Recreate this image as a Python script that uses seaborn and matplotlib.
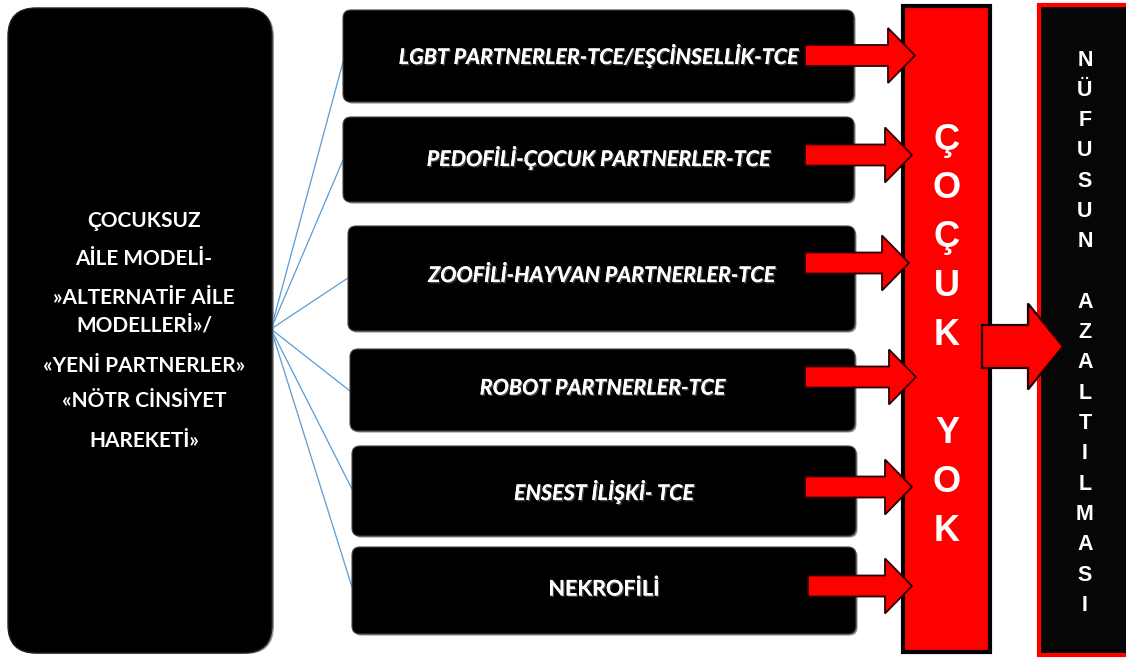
import matplotlib
matplotlib.use("Agg")
import matplotlib.pyplot as plt
from matplotlib.patches import FancyBboxPatch, Rectangle, FancyArrow
import matplotlib.patheffects as pe
import seaborn as sns

# ---- data (texts) ----
left_lines = ["ÇOCUKSUZ", "AİLE MODELİ-", "»ALTERNATİF AİLE", "MODELLERİ»/",
              "«YENİ PARTNERLER»", "«NÖTR CİNSİYET", "HAREKETİ»"]
partner_labels = ["LGBT PARTNERLER-TCE/EŞCİNSELLİK-TCE",
                  "PEDOFİLİ-ÇOCUK PARTNERLER-TCE",
                  "ZOOFİLİ-HAYVAN PARTNERLER-TCE",
                  "ROBOT PARTNERLER-TCE",
                  "ENSEST İLİŞKİ- TCE",
                  "NEKROFİLİ"]
partner_italic = [True, True, True, True, True, False]
middle_word = "ÇOÇUK YOK"
right_word = "NÜFUSUN AZALTILMASI"

# ---- layout (pixel coordinates) ----
W, H = 1126, 659
left_box = (8, 8, 264, 645)
left_text_y = [221, 259, 298, 326, 366, 401, 441]
boxes = [(343, 10, 511, 92), (343, 117, 511, 85), (348, 226, 507, 105),
         (350, 349, 505, 82), (352, 446, 504, 90), (352, 547, 504, 87)]
text_y = [55, 157, 275, 388, 491, 589]
line_origin = (271, 329)
line_ends = [(343, 62), (343, 160), (348, 278), (350, 391), (352, 489), (352, 587)]
arrow_y = [55.5, 155, 263, 377, 487, 586]
arrow_x0 = [805, 805, 805, 805, 805, 808]
arrow_x1 = [915, 912, 909, 916, 912, 912]

sns.set_theme(style="white")
plt.rcParams['font.family'] = ['Lato', 'DejaVu Sans']

fig = plt.figure(figsize=(W / 100, H / 100), dpi=100)
ax = fig.add_axes([0, 0, 1, 1])
ax.set_xlim(0, W)
ax.set_ylim(H, 0)
ax.axis("off")

shadow = [pe.withSimplePatchShadow(offset=(1, -1), shadow_rgbFace="#555555", alpha=0.8), pe.Normal()]

# left big rounded box (with slight grey rim)
x, y, w, h = left_box
ax.add_patch(FancyBboxPatch((x + 2, y + 1), w, h, boxstyle="round,pad=0,rounding_size=28",
                            fc="#9a9a9a", ec="none", zorder=1))
ax.add_patch(FancyBboxPatch((x, y), w, h, boxstyle="round,pad=0,rounding_size=28",
                            fc="black", ec="#222222", lw=1, zorder=2))
for t, ty in zip(left_lines, left_text_y):
    ax.text(x + w / 2 + 4, ty, t, color="white", fontsize=15, fontweight="bold",
            ha="center", va="center", zorder=5)

# connector lines
for ex, ey in line_ends:
    ax.plot([line_origin[0], ex], [line_origin[1], ey], color="#5b9bd5", lw=0.9, zorder=1.5)

# partner boxes
for (bx, by, bw, bh), lab, it, ty in zip(boxes, partner_labels, partner_italic, text_y):
    ax.add_patch(FancyBboxPatch((bx + 1.5, by + 1.5), bw, bh, boxstyle="round,pad=0,rounding_size=8",
                                fc="#8a8a8a", ec="none", zorder=2))
    ax.add_patch(FancyBboxPatch((bx, by), bw, bh, boxstyle="round,pad=0,rounding_size=8",
                                fc="black", ec="#444444", lw=0.8, zorder=3))
    ax.text(bx + bw / 2, ty, lab, color="white", fontsize=15.5, fontweight="bold",
            fontstyle="italic" if it else "normal", ha="center", va="center", zorder=5,
            path_effects=shadow)

# red bar
ax.add_patch(Rectangle((903, 6), 87, 646, fc="#ff0000", ec="black", lw=3, zorder=3))
for i, ch in enumerate(middle_word):
    if ch != " ":
        ax.text(947, 140 + i * 48.9, ch, color="white", fontsize=26, fontweight="bold",
                family=["Liberation Sans", "DejaVu Sans"], ha="center", va="center", zorder=6)

# right black box
ax.add_patch(Rectangle((1039, 5), 95, 650, fc="#060606", ec="#ff0000", lw=3, zorder=3))
for i, ch in enumerate(right_word):
    if ch != " ":
        ax.text(1085, 60 + i * 30.3, ch, color="white", fontsize=15.5, fontweight="bold",
                family=["Liberation Sans", "DejaVu Sans"], ha="center", va="center", zorder=6)

# small arrows
for x0, x1, ay in zip(arrow_x0, arrow_x1, arrow_y):
    ax.add_patch(FancyArrow(x0, ay, x1 - x0, 0, width=21, head_width=55, head_length=27,
                            length_includes_head=True, fc="#ff0000", ec="#2a0000", lw=1.3, zorder=7))

# big arrow
ax.add_patch(FancyArrow(982, 346.5, 81, 0, width=43, head_width=86, head_length=35,
                        length_includes_head=True, fc="#ff0000", ec="#1a0000", lw=1.6, zorder=7))

fig.savefig("out.png", dpi=100, facecolor="white")
